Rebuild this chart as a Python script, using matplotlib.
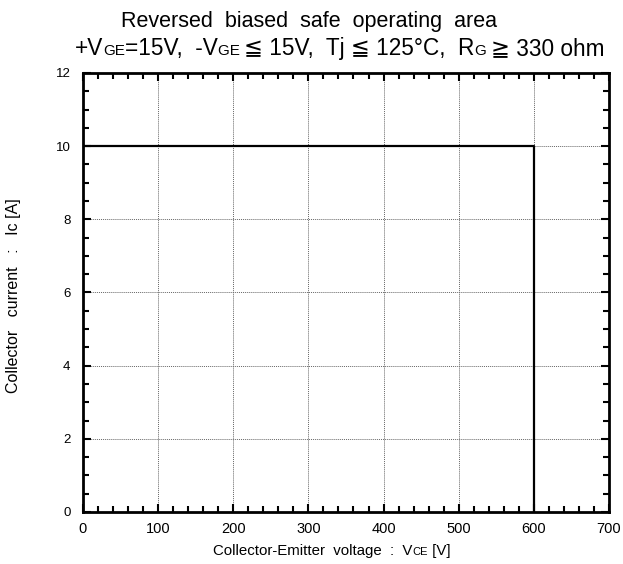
import matplotlib
matplotlib.use("Agg")
import matplotlib.pyplot as plt
from matplotlib.ticker import MultipleLocator

plt.rcParams['font.family'] = ['Liberation Sans', 'DejaVu Sans']

# RBSOA boundary
vce = [0, 600, 600]
ic = [10, 10, 0]

xticks = [0, 100, 200, 300, 400, 500, 600, 700]
yticks = [0, 2, 4, 6, 8, 10, 12]

fig = plt.figure(figsize=(6.23, 5.64), dpi=100)
ax = fig.add_axes([0.1332, 0.0922, 0.8443, 0.7784])

ax.plot(vce, ic, color='black', lw=1.6, zorder=3)
ax.set_xlim(0, 700)
ax.set_ylim(0, 12)
ax.set_xticks(xticks)
ax.set_yticks(yticks)
ax.xaxis.set_minor_locator(MultipleLocator(20))
ax.yaxis.set_minor_locator(MultipleLocator(0.5))
ax.grid(True, which='major', color='#666666', lw=0.7, ls=(0, (1, 1)))
ax.tick_params(which='both', direction='in', top=True, right=True, width=1.5)
ax.tick_params(which='major', length=6)
ax.tick_params(which='minor', length=4)
ax.tick_params(axis='x', labelsize=10.5, pad=7)
ax.tick_params(axis='y', labelsize=9.5, pad=9)
for sp in ax.spines.values():
    sp.set_linewidth(2)

fig.canvas.draw()
renderer = fig.canvas.get_renderer()


def rich(x, y, parts):
    # parts: (text, size); drawn one after another along the baseline
    ofs = 0
    for s, size in parts:
        t = fig.text(x + ofs, y, s, fontsize=size, va='baseline', ha='left')
        ofs += t.get_window_extent(renderer).width / fig.bbox.width


fig.text(0.496, 1 - 27 / 564, 'Reversed  biased  safe  operating  area',
         fontsize=15.5, ha='center', va='baseline')
rich(75 / 623, 1 - 55 / 564, [
    ('+V', 16.3), ('GE', 11), ('=15V,  -V', 16.3), ('GE ', 11),
    ('\u2266 15V,  Tj \u2266 125\u00b0C,  R', 16.3),
    ('G ', 11), ('\u2267 330 ohm', 16.3)])
rich(213 / 623, 1 - 555 / 564, [
    ('Collector-Emitter  voltage  :  V', 10.8), ('CE', 8), (' [V]', 10.8)])
fig.text(14 / 623, 1 - 296 / 564, 'Collector   current   :   Ic [A]',
         fontsize=11.5, rotation=90, ha='center', va='center')

fig.savefig('out.png', dpi=100)
